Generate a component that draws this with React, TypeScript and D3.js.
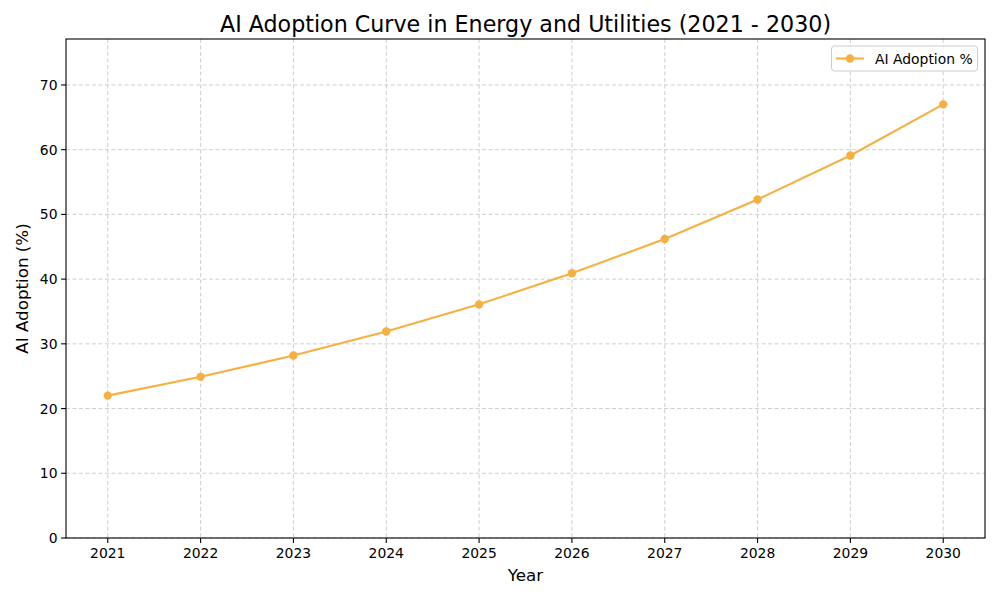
import React from "react";
import * as d3 from "d3";

const years = [2021, 2022, 2023, 2024, 2025, 2026, 2027, 2028, 2029, 2030];
const adoption = [22.0, 24.9, 28.2, 31.9, 36.1, 40.9, 46.2, 52.3, 59.1, 67.0];
const yTicks = [0, 10, 20, 30, 40, 50, 60, 70];
const titleText = "AI Adoption Curve in Energy and Utilities (2021 - 2030)";
const seriesName = "AI Adoption %";

const W = 1000, H = 600;
const L = 66, R = 985, T = 39, B = 538;
const color = "#f5b041";
const font = "'DejaVu Sans', sans-serif";

export default function App() {
  const x = d3.scaleLinear().domain([2020.55, 2030.45]).range([L, R]);
  const y = d3.scaleLinear().domain([0, 77.1]).range([B, T]);
  const line = d3.line<number>().x((_, i) => x(years[i])).y((d) => y(d));
  return (
    <svg width={W} height={H} style={{ position: "absolute", left: 0, top: 0, background: "#fff" }} fontFamily={font}>
      <rect x={0} y={0} width={W} height={H} fill="#fff" />
      {/* grid */}
      {years.map((yr) => (
        <line key={"gx" + yr} x1={x(yr)} x2={x(yr)} y1={T} y2={B} stroke="#c8c8c8" strokeWidth={0.9} strokeDasharray="4,2.5" />
      ))}
      {yTicks.map((t) => (
        <line key={"gy" + t} x1={L} x2={R} y1={y(t)} y2={y(t)} stroke="#c8c8c8" strokeWidth={0.9} strokeDasharray="4,2.5" />
      ))}
      {/* line */}
      <path d={line(adoption) || ""} fill="none" stroke={color} strokeWidth={2.08} />
      {adoption.map((v, i) => (
        <circle key={"p" + i} cx={x(years[i])} cy={y(v)} r={4.2} fill={color} />
      ))}
      {/* axes */}
      <rect x={L} y={T} width={R - L} height={B - T} fill="none" stroke="#000" strokeWidth={1.1} />
      {years.map((yr) => (
        <g key={"tx" + yr}>
          <line x1={x(yr)} x2={x(yr)} y1={B} y2={B + 4.9} stroke="#000" strokeWidth={1.1} />
          <text x={x(yr)} y={B + 19.5} fontSize={13.9} textAnchor="middle" fill="#000">{yr}</text>
        </g>
      ))}
      {yTicks.map((t) => (
        <g key={"ty" + t}>
          <line x1={L - 4.9} x2={L} y1={y(t)} y2={y(t)} stroke="#000" strokeWidth={1.1} />
          <text x={L - 8.5} y={y(t)} dy="0.36em" fontSize={13.9} textAnchor="end" fill="#000">{t}</text>
        </g>
      ))}
      {/* labels */}
      <text x={(L + R) / 2} y={31.5} fontSize={22.2} textAnchor="middle" fill="#000">{titleText}</text>
      <text x={(L + R) / 2} y={581} fontSize={16.7} textAnchor="middle" fill="#000">Year</text>
      <text transform={`translate(28,${(T + B) / 2}) rotate(-90)`} fontSize={16.7} textAnchor="middle" fill="#000">AI Adoption (%)</text>
      {/* legend */}
      <rect x={831.5} y={46} width={146} height={25} rx={3} fill="#fff" fillOpacity={0.8} stroke="#cccccc" strokeWidth={1} />
      <line x1={836} x2={864} y1={58.5} y2={58.5} stroke={color} strokeWidth={2.08} />
      <circle cx={850} cy={58.5} r={4.2} fill={color} />
      <text x={875} y={58.5} dy="0.36em" fontSize={13.9} fill="#000">{seriesName}</text>
    </svg>
  );
}
